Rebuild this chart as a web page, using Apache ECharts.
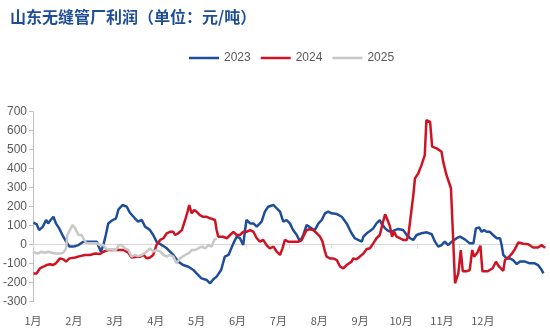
<!DOCTYPE html>
<html>
<head>
<meta charset="utf-8">
<script src="https://cdn.jsdelivr.net/npm/echarts@6/dist/echarts.min.js"></script>
<style>html,body{margin:0;padding:0;background:#fff;}#c{width:550px;height:335px;}</style>
</head>
<body>
<div id="c"></div>
<script>
// x = position in months from 1 Jan (0 = 1月), y = profit (元/吨)
const monthLabels = ['1月','2月','3月','4月','5月','6月','7月','8月','9月','10月','11月','12月'];
const yTicks = [-300,-200,-100,0,100,200,300,400,500,600,700];
const seriesNames = ['2023','2024','2025'];

const data2023 = [
[0.01,116],[0.09,107],[0.15,77],[0.24,95],[0.32,130],[0.37,112],[0.43,130],[0.50,147],[0.56,112],[0.64,86],
[0.74,42],[0.81,16],[0.89,-10],[0.99,-10],[1.11,-2],[1.23,16],[1.35,16],[1.56,16],[1.60,10],[1.66,-37],
[1.72,-2],[1.78,51],[1.84,112],[1.92,126],[2.03,139],[2.09,186],[2.19,209],[2.29,200],[2.37,168],[2.49,139],
[2.57,121],[2.66,130],[2.74,95],[2.86,77],[2.94,51],[3.02,16],[3.15,-2],[3.27,-19],[3.35,-37],[3.43,-54],
[3.55,-89],[3.67,-107],[3.80,-116],[3.92,-133],[4.00,-151],[4.12,-177],[4.25,-186],[4.33,-203],[4.41,-182],[4.49,-168],
[4.60,-133],[4.69,-63],[4.78,-54],[4.90,7],[4.98,42],[5.06,34],[5.14,-2],[5.18,68],[5.22,130],[5.31,112],
[5.39,112],[5.47,95],[5.59,121],[5.67,174],[5.75,200],[5.88,209],[5.96,191],[6.04,174],[6.12,121],[6.20,130],
[6.28,112],[6.36,77],[6.45,51],[6.53,16],[6.61,51],[6.69,104],[6.81,86],[6.89,77],[6.98,112],[7.06,130],
[7.14,165],[7.22,174],[7.30,165],[7.43,161],[7.55,147],[7.67,112],[7.75,77],[7.79,60],[7.87,34],[7.95,25],
[8.04,16],[8.08,42],[8.16,60],[8.24,72],[8.32,86],[8.40,112],[8.48,130],[8.52,112],[8.61,86],[8.69,72],
[8.77,68],[8.85,77],[8.93,83],[9.05,77],[9.14,51],[9.22,34],[9.30,25],[9.38,51],[9.50,60],[9.63,65],
[9.75,55],[9.83,16],[9.91,-10],[9.99,-2],[10.07,16],[10.15,-2],[10.24,16],[10.36,34],[10.44,42],[10.56,28],
[10.68,7],[10.77,7],[10.83,86],[10.91,91],[10.97,68],[11.03,77],[11.09,68],[11.17,68],[11.25,51],[11.34,34],
[11.42,34],[11.46,-2],[11.50,-54],[11.58,-72],[11.66,-72],[11.74,-81],[11.83,-102],[11.91,-89],[12.03,-89],[12.15,-98],
[12.27,-98],[12.35,-107],[12.44,-133],[12.48,-151]
];

const data2024 = [
[0.01,-151],[0.09,-151],[0.17,-124],[0.25,-116],[0.33,-107],[0.42,-103],[0.48,-107],[0.56,-98],[0.66,-72],[0.74,-77],
[0.81,-89],[0.89,-72],[1.03,-67],[1.15,-60],[1.27,-54],[1.39,-54],[1.52,-46],[1.64,-49],[1.72,-37],[1.84,-28],
[1.96,-28],[2.09,-28],[2.21,-28],[2.33,-42],[2.41,-67],[2.54,-63],[2.62,-63],[2.70,-54],[2.78,-72],[2.86,-67],
[2.94,-54],[3.02,-2],[3.11,25],[3.19,34],[3.27,60],[3.35,68],[3.43,68],[3.47,51],[3.55,60],[3.64,77],
[3.72,130],[3.78,174],[3.82,209],[3.88,165],[3.94,183],[4.00,174],[4.08,156],[4.16,147],[4.25,147],[4.33,139],
[4.45,130],[4.49,77],[4.53,42],[4.65,42],[4.74,34],[4.82,51],[4.90,68],[4.98,51],[5.06,51],[5.14,68],
[5.22,68],[5.31,77],[5.39,68],[5.47,34],[5.55,16],[5.63,25],[5.71,-2],[5.79,-19],[5.88,-10],[5.96,-37],
[6.04,-54],[6.10,-19],[6.16,25],[6.24,16],[6.36,16],[6.49,16],[6.57,25],[6.65,60],[6.69,77],[6.77,81],
[6.85,77],[6.94,60],[7.02,42],[7.08,16],[7.14,-37],[7.18,-63],[7.26,-72],[7.34,-72],[7.43,-81],[7.51,-116],
[7.59,-124],[7.67,-107],[7.79,-89],[7.83,-72],[7.91,-77],[7.99,-63],[8.08,-46],[8.16,-23],[8.24,-19],[8.32,7],
[8.40,34],[8.48,51],[8.54,104],[8.61,160],[8.67,130],[8.73,95],[8.78,42],[8.83,68],[8.89,42],[8.97,34],
[9.05,25],[9.14,25],[9.18,51],[9.23,139],[9.30,261],[9.34,349],[9.42,375],[9.50,419],[9.58,472],[9.62,656],
[9.71,647],[9.76,516],[9.87,507],[9.99,489],[10.03,437],[10.11,367],[10.22,297],[10.28,0],[10.32,-203],[10.40,-151],
[10.46,-28],[10.51,-140],[10.60,-140],[10.68,-133],[10.74,-28],[10.79,-63],[10.87,-40],[10.94,-5],[10.99,-140],[11.12,-140],
[11.24,-124],[11.32,-90],[11.40,-116],[11.50,-138],[11.54,-81],[11.62,-68],[11.70,-50],[11.78,-25],[11.87,12],[11.99,5],
[12.11,2],[12.23,-15],[12.35,-15],[12.44,-2],[12.52,-17]
];

const data2025 = [
[0.00,-37],[0.05,-42],[0.13,-46],[0.21,-37],[0.29,-42],[0.37,-37],[0.46,-42],[0.54,-46],[0.66,-46],[0.74,-42],
[0.81,-19],[0.84,51],[0.90,77],[0.97,104],[1.03,86],[1.11,51],[1.19,51],[1.25,25],[1.31,7],[1.44,7],
[1.56,7],[1.64,-2],[1.72,-2],[1.80,-25],[1.92,-25],[2.03,-28],[2.09,-2],[2.17,-2],[2.25,-19],[2.33,-28],
[2.41,-63],[2.49,-54],[2.57,-60],[2.66,-54],[2.78,-37],[2.86,-19],[2.94,-37],[3.02,-28],[3.11,-37],[3.19,-54],
[3.27,-63],[3.35,-54],[3.43,-63],[3.51,-98],[3.59,-72],[3.72,-54],[3.80,-46],[3.88,-28],[3.96,-28],[4.04,-19],
[4.12,-10],[4.21,-19],[4.29,-2],[4.37,-10],[4.43,25],[4.49,34]
];

const colors = ['#1F4E99', '#CF1322', '#C8C8C8'];
const allData = [data2023, data2024, data2025];

const chart = echarts.init(document.getElementById('c'), null, {renderer: 'canvas'});
const labelColor = '#595959';
chart.setOption({
  animation: false,
  backgroundColor: '#ffffff',
  title: {
    text: '山东无缝管厂利润（单位：元/吨）',
    left: 5, top: 4,
    textStyle: {fontFamily: 'Noto Sans CJK SC', fontSize: 16, fontWeight: 'bold', color: '#1F4E99'}
  },
  legend: {
    data: seriesNames.map(n => ({name: n, icon: 'rect'})),
    left: 184, top: 47,
    itemWidth: 30, itemHeight: 2.5, itemGap: 10,
    textStyle: {fontFamily: 'Liberation Sans', fontSize: 12, color: labelColor}
  },
  grid: {left: 33, right: 5, top: 111.7, bottom: 33.3},
  xAxis: [{
    type: 'value', min: 0, max: 12.52, interval: 1,
    position: 'bottom',
    axisLine: {show: false, onZero: false},
    axisTick: {show: false},
    splitLine: {show: false},
    axisLabel: {
      margin: 14, fontFamily: 'Noto Sans CJK SC', fontSize: 11, color: labelColor,
      showMaxLabel: false,
      formatter: function (v) { const i = Math.round(v); return (i >= 0 && i < monthLabels.length) ? monthLabels[i] : ''; }
    }
  }, {
    type: 'value', min: 0, max: 12, interval: 1,
    position: 'bottom',
    axisLine: {show: true, onZero: true, lineStyle: {color: '#D9D9D9', width: 1}},
    axisTick: {show: true, length: 4, lineStyle: {color: '#D9D9D9'}},
    axisLabel: {show: false},
    splitLine: {show: false}
  }],
  yAxis: {
    type: 'value', min: yTicks[0], max: yTicks[yTicks.length - 1], interval: 100,
    axisLine: {show: true, lineStyle: {color: '#BFBFBF'}},
    axisTick: {show: true, length: 4, lineStyle: {color: '#BFBFBF'}},
    splitLine: {show: false},
    axisLabel: {margin: 6, fontFamily: 'Liberation Sans', fontSize: 12, color: labelColor}
  },
  series: seriesNames.map((n, i) => ({
    name: n, type: 'line', xAxisIndex: 0,
    data: allData[i],
    symbol: 'none', smooth: false,
    lineStyle: {color: colors[i], width: 2.5},
    itemStyle: {color: colors[i]}
  }))
});
</script>
</body>
</html>
